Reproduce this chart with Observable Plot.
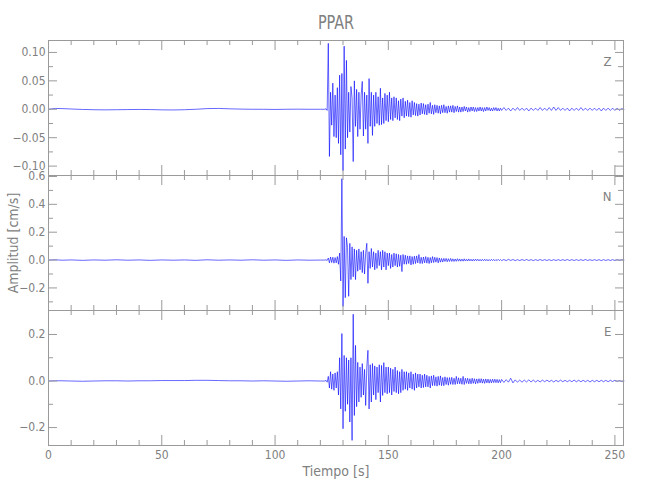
<!DOCTYPE html>
<html>
<head>
<meta charset="utf-8">
<script src="https://cdn.jsdelivr.net/npm/d3@7"></script>
<script src="https://cdn.jsdelivr.net/npm/@observablehq/plot@0.6"></script>
<style>
  body { margin: 0; background: #fff; }
  #chart { position: relative; width: 650px; height: 500px; overflow: hidden;
    font-family: "Liberation Sans Narrow", "DejaVu Sans Condensed", "Liberation Sans", sans-serif; color: #808080; }
  #chart svg { position: absolute; left: 0; }
  .lbl { position: absolute; text-align: center; white-space: nowrap; }
</style>
</head>
<body>
<div id="chart"></div>
<script>
// ---------- data ----------
const title = "PPAR";
const xTitle = "Tiempo [s]";
const yTitle = "Amplitud [cm/s]";
const components = ["Z", "N", "E"];

// quiet pre-event part: sample times (s)
const preTimes = [0, 3, 6, 10, 15, 20, 25, 30, 35, 40, 45, 50, 55, 60, 65, 70, 75, 80, 85, 90, 95, 100, 105, 110, 115, 120];
// event part sampled every 0.5 s from 122 s, coda every 1 s from 201 s
const eventStart = 122, eventStep = 0.5;
const codaStart = 201, codaStep = 1;

const zPre = [0, .0015, .0012, .0005, -.0003, -.0008, -.001, -.0008, -.0005, -.0003, -.0005, -.001, -.0012, -.0008, 0, .0012, .0015, .0008, .0003, 0, 0, -.0003, 0, .0002, 0, 0];
const zEvent = [
  0, .001, -.002, .116, -.083, .03, -.028, .046, -.048, .025,
  -.05, .038, -.06, .06, -.08, .063, -.108, .111, -.07, .086,
  -.05, .03, -.04, .04, .02, -.092, .05, -.03, .035, -.048,
  .03, -.035, .025, .049, -.047, .03, -.035, .025, -.06, .054,
  -.03, .03, -.046, .025, -.03, .03, -.025, .022, -.028, .037,
  -.027, .02, -.025, .028, -.02, .025, -.022, .03, -.018, .02,
  -.02, .022, -.015, .02, -.018, .015, -.02, .018, -.012, .02,
  -.015, .014, -.012, .016, -.013, .012, -.014, .015, -.01, .012,
  -.011, .01, -.012, .009, -.01, .011, -.008, .01, -.009, .008,
  -.01, .009, -.007, .012, -.008, .007, -.009, .008, -.006, .007,
  -.007, .006, -.008, .007, -.006, .008, -.006, .005, -.007, .006,
  -.005, .006, -.005, .007, -.006, .005, -.004, .006, -.005, .004,
  -.005, .004, -.004, .005, -.003, .004, -.005, .003, -.004, .004,
  -.003, .004, -.004, .003, -.004, .003, -.003, .004, -.003, .003,
  -.004, .003, -.003, .004, -.002, .003, -.003, .002, -.003, .003,
  -.002, .003, -.003, .002, -.003, .002, -.002
];
const zCoda = [
  .003, -.002, .002, -.003, .002, -.002, .003, -.002, .002, -.002,
  .002, -.003, .002, -.002, .002, -.002, .003, -.002, .002, -.002,
  .003, -.002, .004, -.002, .003, -.002, .002, -.002, .002, -.003,
  .002, -.002, .002, -.002, .003, -.002, .002, -.002, .002, -.002,
  .002, -.002, .002, -.003, .002, -.002, .002, -.002, .002, -.002,
  .002, -.002, .001, 0
];

const nPre = [0, .002, -.001, .001, -.002, .001, -.001, .002, -.001, .001, -.002, .001, -.001, .001, -.002, .002, -.001, .001, -.001, .002, -.001, .001, -.002, .001, -.001, 0];
const nEvent = [
  0, .002, -.003, .015, -.02, .022, -.018, .02, -.022, .018,
  -.02, .025, -.03, .05, -.15, .584, -.333, .17, -.27, .16,
  .09, -.26, .12, -.14, .095, -.12, .08, -.14, .07, -.08,
  .08, -.07, .06, -.09, .07, -.1, .05, .12, -.167, .06,
  -.06, .083, -.05, .06, -.07, .05, -.06, .07, -.04, .06,
  -.07, .07, -.05, .06, -.07, .05, -.04, .05, -.06, .04,
  -.05, .05, -.04, .045, -.05, .04, -.045, .035, -.083, .04,
  -.03, .035, -.03, .03, -.025, .03, -.035, .025, -.03, .028,
  -.025, .03, -.02, .04, -.025, .02, -.025, .022, -.02, .025,
  -.022, .02, -.025, .018, -.02, .025, -.018, .02, -.015, .018,
  -.02, .015, -.015, .012, -.014, .012, -.01, .012, -.012, .01,
  -.01, .012, -.01, .009, -.01, .008, -.009, .01, -.008, .008,
  -.008, .007, -.008, .009, -.007, .006, -.007, .008, -.006, .006,
  -.007, .006, -.006, .007, -.005, .006, -.006, .005, -.006, .005,
  -.005, .006, -.005, .005, -.006, .004, -.005, .005, -.004, .005,
  -.005, .004, -.004, .005, -.004, .004, -.004
];
const nCoda = [
  .004, -.004, .005, -.003, .004, -.004, .003, -.004, .004, -.003,
  .004, -.003, .003, -.004, .003, -.003, .004, -.003, .003, -.003,
  .003, -.004, .003, -.003, .003, -.003, .003, -.003, .004, -.003,
  .003, -.003, .003, -.003, .003, -.003, .004, -.003, .003, -.003,
  .003, -.003, .003, -.004, .003, -.003, .003, -.003, .003, -.003,
  .003, -.002, .002, 0
];

const ePre = [0, .001, .001, 0, -.001, 0, .001, .001, 0, .001, .001, .002, .002, .002, .003, .003, .002, .001, .001, 0, .001, 0, -.001, 0, .001, 0];
const eEvent = [
  0, .003, -.005, .02, -.03, .04, -.035, .03, -.04, .035,
  -.03, .04, -.06, .1, -.12, .204, -.205, .11, -.13, .1,
  -.1, .09, -.176, .1, -.255, .287, -.148, .153, -.11, .08,
  -.09, .06, -.07, .075, -.06, .05, -.105, .06, .132, -.12,
  .07, -.09, .075, -.06, .065, -.08, .06, -.05, .07, -.09,
  .067, -.062, .079, -.05, .06, -.055, .06, -.05, .055, -.06,
  .05, -.045, .06, -.05, .045, -.055, .04, -.05, .05, -.04,
  .04, -.035, .04, -.04, .035, -.03, .04, -.035, .03, -.04,
  .035, -.03, .03, -.025, .03, -.03, .025, -.028, .03, -.025,
  .025, -.025, .02, -.03, .022, -.02, .025, -.02, .018, -.022,
  .02, -.018, .022, -.02, .015, -.02, .018, -.015, .015, -.018,
  .015, -.014, .016, -.015, .012, -.015, .02, -.012, .014, -.012,
  .012, -.014, .02, -.015, .012, -.01, .012, -.012, .01, -.012,
  .012, -.01, .01, -.012, .009, -.01, .01, -.008, .01, -.009,
  .008, -.01, .009, -.008, .008, -.009, .007, -.008, .008, -.007,
  .008, -.007, .007, -.008, .006, -.007, .007
];
const eCoda = [
  -.006, .006, -.005, .012, -.008, .005, -.005, .004, -.005, .004,
  -.004, .005, -.004, .004, -.004, .003, -.004, .004, -.003, .004,
  -.003, .003, -.004, .003, -.003, .004, -.003, .003, -.003, .003,
  -.003, .004, -.003, .003, -.003, .003, -.003, .003, -.004, .003,
  -.003, .003, -.003, .003, -.003, .003, -.003, .003, -.002, .003,
  -.002, .002, -.002, 0
];

// axes
const xDomain = [0, 253.8];
const xMajor = [0, 50, 100, 150, 200, 250];
const xMinor = [10, 20, 30, 40, 60, 70, 80, 90, 110, 120, 130, 140, 160, 170, 180, 190, 210, 220, 230, 240];
const zDomain = [-0.1165, 0.121];
const zMajor = [-0.10, -0.05, 0, 0.05, 0.10];
const zMinor = [-0.075, -0.025, 0.025, 0.075];
const nDomain = [-0.362, 0.607];
const nMajor = [-0.2, 0, 0.2, 0.4, 0.6];
const nMinor = [-0.3, -0.1, 0.1, 0.3, 0.5];
const eDomain = [-0.277, 0.303];
const eMajor = [-0.2, 0, 0.2];
const eMinor = [-0.1, 0.1];

// ---------- drawing ----------
const FONT = '"Liberation Sans Narrow", "DejaVu Sans Condensed", "Liberation Sans", sans-serif';
const FRAME = "#9a9a9a";
const TEXT = "#808080";
const TRACE = "#0000ff";

function series(pre, ev, coda) {
  const rows = [];
  pre.forEach((v, i) => rows.push({t: preTimes[i], v}));
  ev.forEach((v, i) => rows.push({t: eventStart + i * eventStep, v}));
  coda.forEach((v, i) => rows.push({t: codaStart + i * codaStep, v}));
  return rows;
}

const chart = document.getElementById("chart");
const W = 650, mL = 48, mR = 27, H = 135;
const plotW = W - mL - mR;

function panel(label, data, yDomain, major, minor, fmt, top, last) {
  const mT = 6, mB = last ? 40 : 6;
  const tk = (vals, opts) => Plot.tickY(vals, {y: d => d, stroke: FRAME, ...opts});
  const tx = (vals, opts) => Plot.tickX(vals, {x: d => d, stroke: FRAME, ...opts});
  const marks = [
    Plot.line(data, {x: "t", y: "v", stroke: TRACE, strokeWidth: 0.6}),
    Plot.frame({stroke: FRAME}),
    tk(major, {insetRight: plotW - 9}),
    tk(major, {insetLeft: plotW - 8}),
    tk(minor, {insetRight: plotW - 5}),
    tk(minor, {insetLeft: plotW - 5}),
    tx(xMajor, {insetBottom: H - 10}),
    tx(xMajor, {insetTop: H - 10}),
    tx(xMinor, {insetBottom: H - 5}),
    tx(xMinor, {insetTop: H - 5}),
    Plot.axisY(major, {tickSize: 0, tickPadding: 3, tickFormat: fmt, label: null, fill: TEXT}),
    Plot.text([label], {text: d => d, frameAnchor: "top-right", dx: -12, dy: 16, fontSize: 13, fill: TEXT})
  ];
  if (last) marks.push(Plot.axisX(xMajor, {tickSize: 0, tickPadding: 5, tickFormat: d => String(d), label: null, fill: TEXT}));
  const svg = Plot.plot({
    width: W, height: H + mT + mB,
    marginLeft: mL, marginRight: mR, marginTop: mT, marginBottom: mB,
    x: last ? {domain: xDomain, label: null} : {domain: xDomain, axis: null, label: null},
    y: {domain: yDomain, label: null},
    style: {fontFamily: FONT, fontSize: "12px", color: TEXT, background: "transparent", overflow: "visible"},
    marks
  });
  svg.style.position = "absolute";
  svg.style.top = (top - mT) + "px";
  svg.style.left = "0px";
  chart.appendChild(svg);
}

panel(components[0], series(zPre, zEvent, zCoda), zDomain, zMajor, zMinor, ".2f", 40, false);
panel(components[1], series(nPre, nEvent, nCoda), nDomain, nMajor, nMinor, ".1f", 175, false);
panel(components[2], series(ePre, eEvent, eCoda), eDomain, eMajor, eMinor, ".1f", 310, true);

function addLabel(text, css) {
  const d = document.createElement("div");
  d.className = "lbl";
  d.textContent = text;
  Object.assign(d.style, css);
  chart.appendChild(d);
}
addLabel(title, {left: "236px", width: "200px", top: "12px", fontSize: "20px", lineHeight: "20px", transform: "scaleX(0.8)"});
addLabel(xTitle, {left: "236px", width: "200px", top: "464px", fontSize: "14px", lineHeight: "14px"});
addLabel(yTitle, {left: "-87px", width: "200px", top: "236px", fontSize: "14px", lineHeight: "14px", transform: "rotate(-90deg)"});
</script>
</body>
</html>
